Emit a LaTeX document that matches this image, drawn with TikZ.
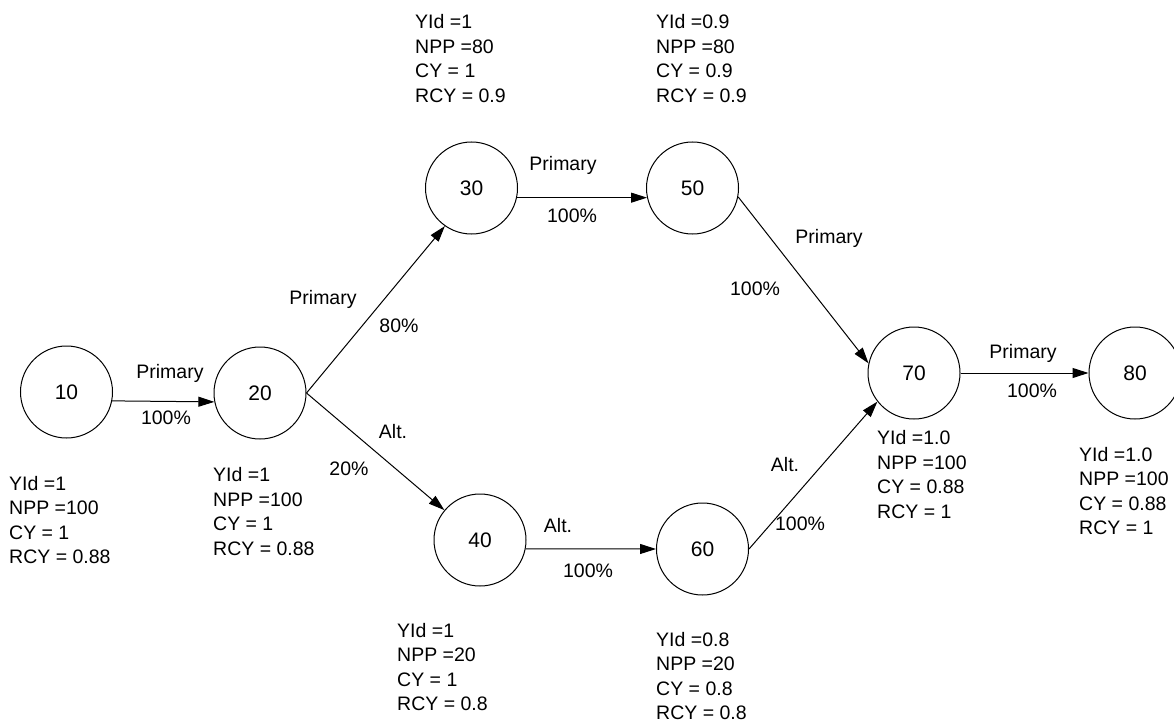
\documentclass[tikz,border=0pt]{standalone}
\usepackage{fontspec}
\setmainfont{Liberation Sans}
\usetikzlibrary{arrows.meta}

\tikzset{
  opnode/.style={draw, circle, minimum size=92pt, inner sep=0pt, line width=1pt,
    font=\fontsize{21}{24}\selectfont},
  yldbox/.style={anchor=west, align=left, inner sep=0pt,
    font=\fontsize{19.5}{24.5}\selectfont},
  flowlbl/.style={inner sep=0pt, font=\fontsize{19.5}{24}\selectfont},
  flow/.style={line width=1pt, -{Triangle[length=16pt,width=10pt]}}
}

\begin{document}
\begin{tikzpicture}[x=1pt,y=-1pt]
  \useasboundingbox (0,0) rectangle (1174,722);

  % operations
  \node[opnode] (n10) at (66.5,392) {10};
  \node[opnode] (n20) at (260,393) {20};
  \node[opnode] (n30) at (471.5,188) {30};
  \node[opnode] (n50) at (692.5,188) {50};
  \node[opnode] (n40) at (480,540) {40};
  \node[opnode] (n60) at (702.5,549) {60};
  \node[opnode] (n70) at (914,373) {70};
  \node[opnode] (n80) at (1135,373) {80};

  % routings
  \draw[flow] (n10.-11) -- (n20.191);
  \draw[flow] (n20.east) -- (n30.235);
  \draw[flow] (n20.east) -- (n40.140);
  \draw[flow] (n30.-12) -- (n50.192);
  \draw[flow] (n40.-11) -- (n60.west);
  \draw[flow] (n50.-11) -- (n70.168);
  \draw[flow] (n60.east) -- (n70.218);
  \draw[flow] (n70.east) -- (n80.west);

  % routing labels
  \node[flowlbl] (l12a) at (170,373) {Primary};
  \node[flowlbl] (l12b) at (166,418) {100\%};
  \node[flowlbl] (l23a) at (323,299) {Primary};
  \node[flowlbl] (l23b) at (399,326) {80\%};
  \node[flowlbl] (l24a) at (393,432) {Alt.};
  \node[flowlbl] (l24b) at (349,469) {20\%};
  \node[flowlbl] (l35a) at (563,165) {Primary};
  \node[flowlbl] (l35b) at (572,216) {100\%};
  \node[flowlbl] (l46a) at (558,526) {Alt.};
  \node[flowlbl] (l46b) at (588,571) {100\%};
  \node[flowlbl] (l57a) at (829,238) {Primary};
  \node[flowlbl] (l57b) at (755,289) {100\%};
  \node[flowlbl] (l67a) at (785,465) {Alt.};
  \node[flowlbl] (l67b) at (800,524) {100\%};
  \node[flowlbl] (l78a) at (1023,353) {Primary};
  \node[flowlbl] (l78b) at (1032,391) {100\%};

  % yields
  \node[yldbox] (y10) at (9,520) {YId =1\\NPP =100\\CY = 1\\RCY = 0.88};
  \node[yldbox] (y20) at (213,511.5) {YId =1\\NPP =100\\CY = 1\\RCY = 0.88};
  \node[yldbox] (y30) at (415,58.5) {YId =1\\NPP =80\\CY = 1\\RCY = 0.9};
  \node[yldbox] (y50) at (656,58.5) {YId =0.9\\NPP =80\\CY = 0.9\\RCY = 0.9};
  \node[yldbox] (y40) at (397,667) {YId =1\\NPP =20\\CY = 1\\RCY = 0.8};
  \node[yldbox] (y60) at (656,676) {YId =0.8\\NPP =20\\CY = 0.8\\RCY = 0.8};
  \node[yldbox] (y70) at (877,474.5) {YId =1.0\\NPP =100\\CY = 0.88\\RCY = 1};
  \node[yldbox] (y80) at (1079,491) {YId =1.0\\NPP =100\\CY = 0.88\\RCY = 1};
\end{tikzpicture}
\end{document}
